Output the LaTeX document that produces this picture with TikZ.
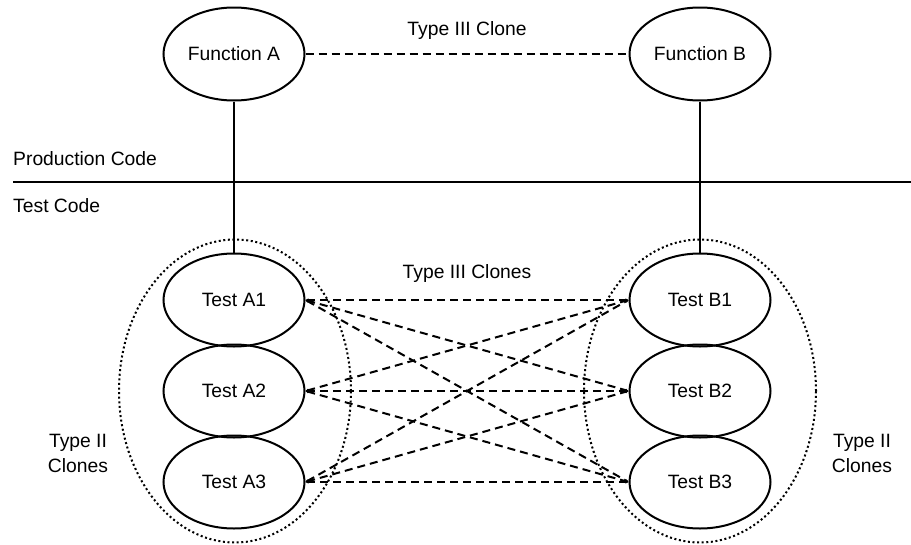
\documentclass[tikz,border=0pt]{standalone}
\usepackage{fontspec}
\setmainfont{Liberation Sans}
\usetikzlibrary{shapes.geometric,arrows.meta}
\tikzstyle{unit} = [ellipse, draw, line width=2pt, text centered, minimum width=141pt, minimum height=93pt, inner sep=0pt]
\tikzstyle{family} = [ellipse, draw, line width=2pt, dash pattern=on 2pt off 2.6pt, minimum width=232pt, minimum height=303pt]
\tikzstyle{clone} = [line width=2pt, dash pattern=on 8pt off 5pt]
\tikzstyle{clones} = [clone, {Stealth[length=3pt,width=3pt]}-{Stealth[length=3pt,width=3pt]}]
\tikzstyle{link} = [line width=2pt]
\tikzstyle{caption} = [text centered, align=center, inner sep=0pt]

\begin{document}
\begin{tikzpicture}[x=1pt, y=-1pt, font=\fontsize{19.3}{25}\selectfont, node distance=91pt]
        \useasboundingbox (0,0) rectangle (911,544);
        \node (func-a) [unit] at (234,54) {Function A};
        \node (func-b) [unit] at (700,54) {Function B};
        \node (test-a1) [unit] at (234,300) {Test A1};
        \node (test-a2) [unit, below of = test-a1] {Test A2};
        \node (test-a3) [unit, below of = test-a2] {Test A3};
        \node (test-b1) [unit] at (700,300) {Test B1};
        \node (test-b2) [unit, below of = test-b1] {Test B2};
        \node (test-b3) [unit, below of = test-b2] {Test B3};
        \node (group-a) [family] at (235,391) {};
        \node (group-b) [family] at (700,391) {};
        \node (title-func) [caption] at (467,31) {Type III Clone};
        \node (title-test) [caption] at (467,274) {Type III Clones};
        \node (prod-code) [caption, anchor=west] at (13,159) {Production Code};
        \node (test-code) [caption, anchor=west] at (13,206) {Test Code};
        \node (group-a-label) [caption] at (78,453) {Type II\\Clones};
        \node (group-b-label) [caption] at (862,453) {Type II\\Clones};
        \coordinate (border-l) at (13,182);
        \coordinate (border-r) at (911,182);
        \draw [link] (border-l) -- (border-r);
        \draw [link] (func-a.south) -- (test-a1.north);
        \draw [link] (func-b.south) -- (test-b1.north);
        \draw [clone] (func-a.east) -- (func-b.west);
        \draw [clones] (test-a1.east) -- (test-b1.west);
        \draw [clones] (test-a1.east) -- (test-b2.west);
        \draw [clones] (test-a1.east) -- (test-b3.west);
        \draw [clones] (test-a2.east) -- (test-b1.west);
        \draw [clones] (test-a2.east) -- (test-b2.west);
        \draw [clones] (test-a2.east) -- (test-b3.west);
        \draw [clones] (test-a3.east) -- (test-b1.west);
        \draw [clones] (test-a3.east) -- (test-b2.west);
        \draw [clones] (test-a3.east) -- (test-b3.west);
    \end{tikzpicture}
\end{document}
